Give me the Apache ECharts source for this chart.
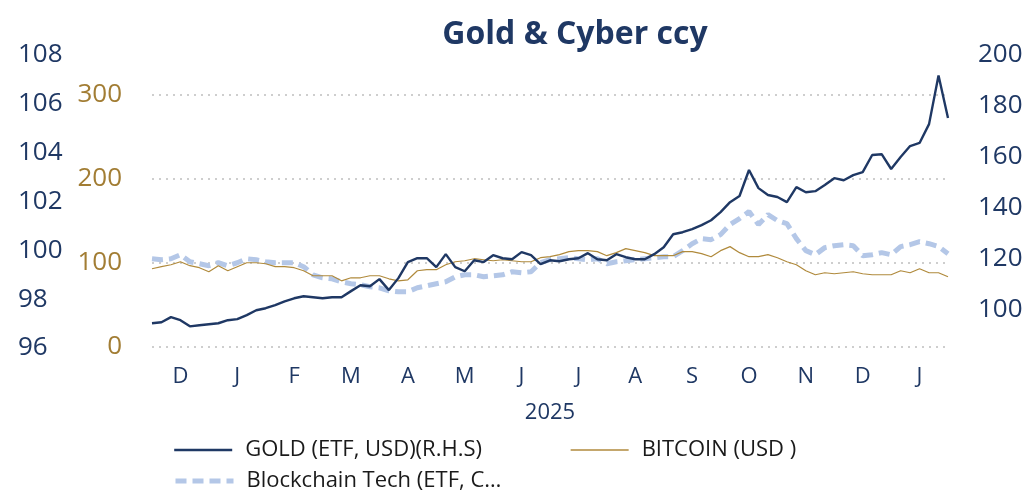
<!DOCTYPE html>
<html>
<head>
<meta charset="utf-8">
<script src="https://cdn.jsdelivr.net/npm/echarts@6/dist/echarts.min.js"></script>
<style>
  html, body { margin: 0; padding: 0; background: #fff; }
  #chart { width: 1036px; height: 492px; }
</style>
</head>
<body>
<div id="chart"></div>
<script>
// month initials, Dec 2024 .. Jan 2026
const months = ['D', 'J', 'F', 'M', 'A', 'M', 'J', 'J', 'A', 'S', 'O', 'N', 'D', 'J'];

// gold ETF in USD, right hand scale
const gold = [94.8, 95.2, 97.2, 96.0, 93.6, 94.0, 94.4, 94.8, 96.0, 96.4,
  98.0, 99.9, 100.7, 101.9, 103.4, 104.6, 105.4, 105.0, 104.6, 105.0,
  105.0, 107.4, 109.7, 109.3, 112.1, 107.8, 112.5, 118.8, 120.3, 120.3,
  116.8, 121.9, 116.8, 115.2, 119.5, 118.8, 121.5, 120.3, 119.9, 122.7,
  121.5, 118.0, 119.5, 119.1, 119.9, 120.3, 122.3, 119.9, 119.5, 121.9,
  120.7, 119.9, 119.9, 121.9, 124.6, 129.7, 130.5, 131.7, 133.3, 135.2,
  138.4, 142.3, 144.7, 154.9, 147.8, 145.1, 144.3, 142.3, 148.2, 146.2,
  146.6, 149.0, 151.7, 150.9, 152.9, 154.1, 160.8, 161.1, 155.3, 160.0,
  164.3, 165.5, 172.9, 192.0, 175.3];

// bitcoin in USD, rebased
const bitcoin = [93.2, 95.6, 97.9, 101.5, 96.8, 94.4, 89.6, 96.8, 90.8, 95.6,
  100.3, 100.3, 99.1, 95.6, 95.6, 94.4, 90.8, 84.8, 84.8, 84.8,
  78.8, 82.4, 82.4, 84.8, 84.8, 81.2, 78.8, 80.0, 90.8, 92.0,
  92.0, 97.9, 101.5, 102.7, 105.1, 103.9, 102.7, 103.9, 102.7, 101.5,
  101.5, 106.3, 107.5, 109.9, 113.5, 114.7, 114.7, 113.5, 108.7, 112.3,
  117.1, 114.7, 112.3, 108.7, 108.7, 108.7, 113.5, 113.5, 111.1, 107.5,
  114.7, 119.5, 112.3, 107.5, 107.5, 109.9, 106.3, 101.5, 97.9, 90.8,
  86.0, 88.4, 87.2, 88.4, 89.6, 87.2, 86.0, 86.0, 86.0, 90.8,
  88.4, 93.2, 88.4, 88.4, 83.6];

// blockchain tech ETF, rebased
const blockchain = [105.1, 103.9, 105.1, 109.9, 101.5, 99.1, 96.8, 100.3, 96.8, 100.3,
  105.1, 103.9, 101.5, 100.3, 100.3, 100.3, 95.6, 86.0, 82.4, 81.2,
  77.6, 75.3, 74.1, 71.7, 70.5, 66.9, 65.7, 65.7, 70.5, 72.9,
  75.3, 77.6, 83.6, 86.0, 86.0, 83.6, 84.8, 86.0, 89.6, 88.4,
  89.6, 100.3, 103.9, 105.1, 106.3, 105.1, 103.9, 105.1, 99.1, 101.5,
  102.7, 103.9, 105.1, 106.3, 107.5, 107.5, 114.7, 123.0, 129.0, 127.8,
  133.8, 145.7, 152.9, 161.3, 145.7, 157.7, 150.5, 146.9, 129.0, 114.7,
  109.9, 118.3, 120.6, 121.8, 120.6, 108.7, 109.9, 112.3, 109.9, 119.5,
  121.8, 125.4, 123.0, 119.5, 111.1];

const names = ['GOLD (ETF, USD)(R.H.S)', 'BITCOIN (USD )', 'Blockchain Tech (ETF, C…'];

const navy = '#1f3864';
const brown = '#a27d34';
const font = 'Open Sans';
const steps = gold.map((v, i) => String(i));

const chart = echarts.init(document.getElementById('chart'), null, { renderer: 'canvas' });

const legendText = { fontFamily: font, fontSize: 22, color: '#1a1a1a', padding: [0, 0, 0, 8] };
const legendBase = { itemWidth: 58, itemHeight: 14, itemStyle: { opacity: 0 }, textStyle: legendText };

chart.setOption({
  animation: false,
  title: {
    text: 'Gold & Cyber ccy',
    left: 570,
    top: 14,
    textAlign: 'center',
    textStyle: { fontFamily: font, fontSize: 32, fontWeight: 'bold', color: navy }
  },
  legend: [
    Object.assign({ data: [names[0]], left: 168, top: 434, lineStyle: { width: 2.4 } }, legendBase),
    Object.assign({ data: [names[1]], left: 565, top: 434, lineStyle: { width: 1.3 } }, legendBase),
    Object.assign({ data: [names[2]], left: 168, top: 465, lineStyle: { width: 5 } }, legendBase)
  ],
  grid: [
    { left: 152, right: 88, top: 55, bottom: 144 },
    { left: 152, right: 88, top: 95, bottom: 145 },
    { left: 152, right: 88, top: 55, bottom: 131 }
  ],
  xAxis: [
    {
      type: 'category', gridIndex: 0, data: months, boundaryGap: true,
      axisLine: { show: false }, axisTick: { show: false },
      axisLabel: { fontFamily: font, fontSize: 22, color: navy, margin: 18 },
      name: '2025', nameLocation: 'middle', nameGap: 54,
      nameTextStyle: { fontFamily: font, fontSize: 22, color: navy }
    },
    { type: 'category', gridIndex: 1, data: steps, boundaryGap: false, show: false },
    { type: 'category', gridIndex: 2, data: steps, boundaryGap: false, show: false }
  ],
  yAxis: [
    {
      type: 'value', gridIndex: 0, min: 96, max: 108, interval: 2, position: 'left',
      axisLine: { show: false }, axisTick: { show: false }, splitLine: { show: false },
      axisLabel: { align: 'left', margin: 134, fontFamily: font, fontSize: 26, color: navy }
    },
    {
      type: 'value', gridIndex: 1, min: 0, max: 300, interval: 100, position: 'left',
      axisLine: { show: false }, axisTick: { show: false },
      splitLine: { lineStyle: { type: [2, 5], color: '#bfbfbf', width: 1.5 } },
      axisLabel: { margin: 30, fontFamily: font, fontSize: 26, color: brown }
    },
    {
      type: 'value', gridIndex: 2, min: 80, max: 200, interval: 20, position: 'right',
      axisLine: { show: false }, axisTick: { show: false }, splitLine: { show: false },
      axisLabel: { margin: 30, fontFamily: font, fontSize: 26, color: navy, showMinLabel: false }
    }
  ],
  series: [
    {
      name: names[2], type: 'line', xAxisIndex: 1, yAxisIndex: 1, data: blockchain,
      symbol: 'none', lineStyle: { color: '#b4c7e7', width: 5, type: [11, 6] },
      itemStyle: { color: '#b4c7e7' }
    },
    {
      name: names[1], type: 'line', xAxisIndex: 1, yAxisIndex: 1, data: bitcoin,
      symbol: 'none', lineStyle: { color: '#b08a3c', width: 1.2 },
      itemStyle: { color: '#b08a3c' }
    },
    {
      name: names[0], type: 'line', xAxisIndex: 2, yAxisIndex: 2, data: gold,
      symbol: 'none', lineStyle: { color: navy, width: 2.4 },
      itemStyle: { color: navy }
    }
  ]
});
</script>
</body>
</html>
